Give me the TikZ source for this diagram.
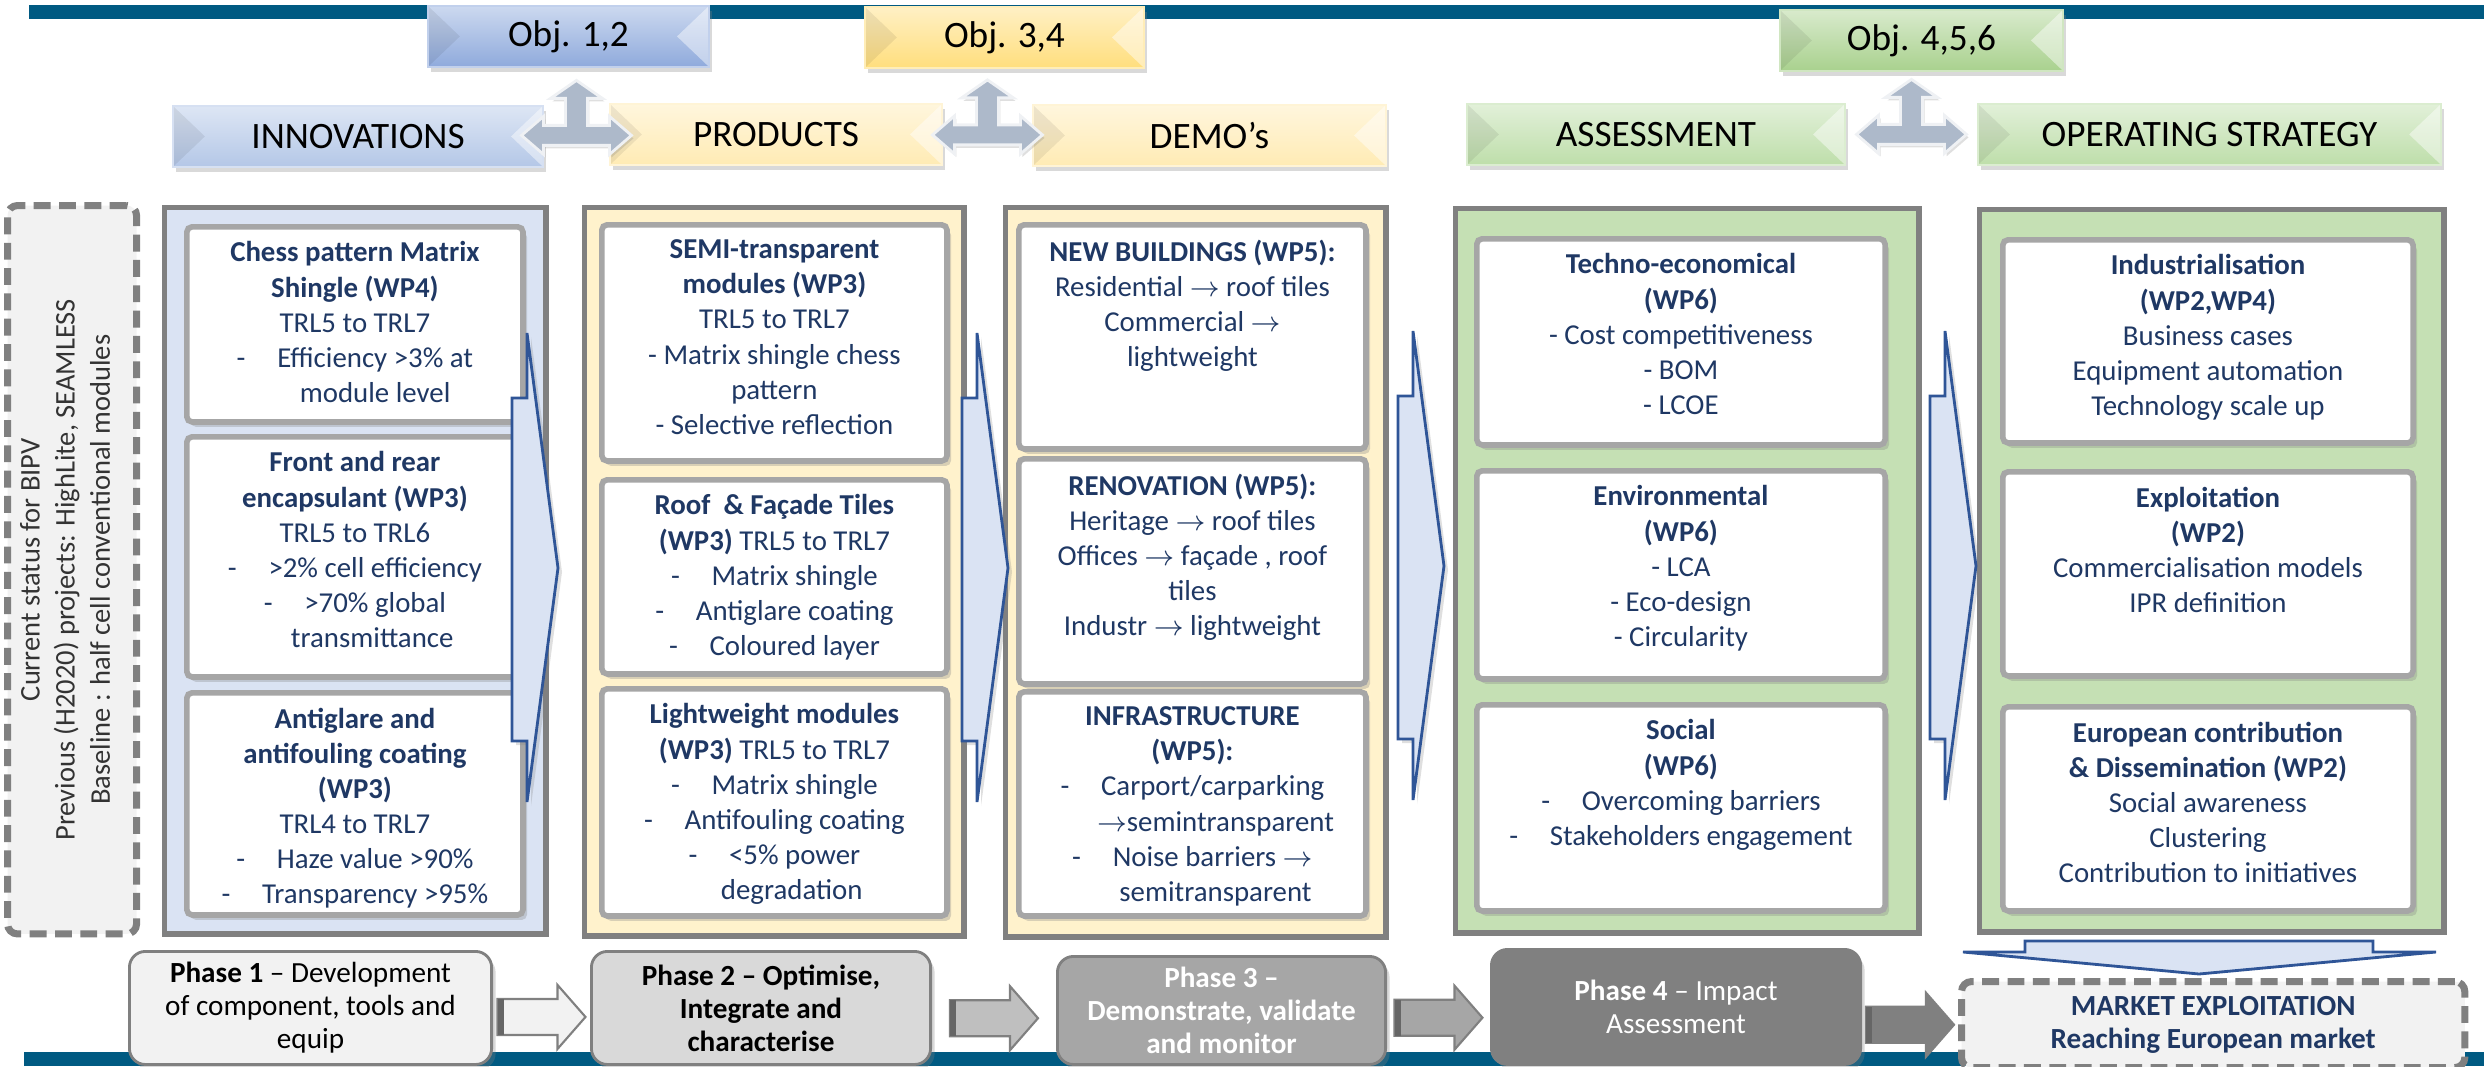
\documentclass[tikz,border=0pt]{standalone}
\usepackage{fontspec}
\setmainfont{Carlito}
\usepackage{tikz}
\usetikzlibrary{positioning}
\usetikzlibrary{shadows}
\usetikzlibrary{calc}

\definecolor{barblue}{RGB}{0,90,130}
\definecolor{navy}{RGB}{31,56,100}
\definecolor{boxframe}{RGB}{128,128,128}
\definecolor{itemframe}{RGB}{166,166,166}
\definecolor{objblue}{RGB}{143,170,220}
\definecolor{objyellow}{RGB}{255,222,125}
\definecolor{objgreen}{RGB}{169,209,142}
\definecolor{hdrblue}{RGB}{180,199,231}
\definecolor{hdryellow}{RGB}{255,235,180}
\definecolor{hdrgreen}{RGB}{190,222,170}
\definecolor{colblue}{RGB}{218,227,243}
\definecolor{colyellow}{RGB}{255,242,204}
\definecolor{colgreen}{RGB}{197,224,180}
\definecolor{linkgray}{RGB}{173,185,202}
\definecolor{arrowblue}{RGB}{47,85,151}

% list dash with a tab-like gap
\newcommand{\itm}{-\hspace{1.1em}}

\tikzset{
  bevelbox/.style={anchor=north west, inner sep=0pt, minimum height=0.61cm,
    top color=#1!45!white, bottom color=#1, draw=#1!55!white, line width=0.5pt,
    text=black, font=\fontsize{10.6}{12}\selectfont,
    drop shadow={shadow xshift=0.03cm, shadow yshift=-0.05cm, opacity=0.3},
    path picture={
      \fill[black, opacity=0.07] (path picture bounding box.north west)
        -- ([xshift=0.32cm]path picture bounding box.west)
        -- (path picture bounding box.south west) -- cycle;
      \fill[white, opacity=0.45] (path picture bounding box.north east)
        -- ([xshift=-0.32cm]path picture bounding box.east)
        -- (path picture bounding box.south east) -- cycle;
    }},
  colbox/.style={anchor=north west, inner sep=0pt, fill=#1, draw=boxframe, line width=1.5pt},
  itembox/.style={anchor=north west, inner sep=0pt, fill=white, draw=itemframe,
    line width=1.6pt, rounded corners=1.5pt,
    drop shadow={shadow xshift=0.04cm, shadow yshift=-0.05cm, opacity=0.3}},
  itemtext/.style={inner sep=0pt, align=center, text=navy, font=\fontsize{8.2}{10}\selectfont},
  phasebox/.style={anchor=north west, inner sep=0pt, align=center, fill=#1,
    draw=boxframe, line width=0.8pt, rounded corners=0.16cm,
    font=\fontsize{8.3}{9.4}\selectfont,
    drop shadow={shadow xshift=0.04cm, shadow yshift=-0.05cm, opacity=0.3}},
  dashbox/.style={anchor=north west, inner sep=0pt, fill=black!5, draw=boxframe,
    line width=2pt, dash pattern=on 4.8pt off 2.4pt, rounded corners=0.1cm},
  pics/lrup/.style={code={
    \path[fill=linkgray, draw=white!80!linkgray, line width=0.8pt,
      drop shadow={shadow xshift=0.02cm, shadow yshift=-0.03cm, opacity=0.25}]
      (-55,0) -- (-33,-19) -- (-33,-10) -- (-11,-10) -- (-11,-37) -- (-26,-37)
      -- (0,-55) -- (26,-37) -- (11,-37) -- (11,-10) -- (33,-10) -- (33,-19)
      -- (55,0) -- (33,19) -- (33,10) -- (-33,10) -- (-33,19) -- cycle;
  }},
  pics/bigarrow/.style={code={
    \path[fill=colblue, draw=arrowblue, line width=0.8pt,
      drop shadow={shadow xshift=0.04cm, shadow yshift=-0.04cm, opacity=0.25}]
      (0,0) -- (-31,-235) -- (-31,-170) -- (-46,-170) -- (-46,173)
      -- (-31,173) -- (-31,234) -- cycle;
  }},
  pics/phasearrow/.style={code={
    \path[fill=#1, draw=boxframe, line width=0.6pt]
      (-44,-9) -- (16,-9) -- (16,-23) -- (44,9) -- (16,41) -- (16,27) -- (-44,27) -- cycle;
    \fill[black!60] (-44,-9) rectangle (-38,27);
  }},
}

\begin{document}
\begin{tikzpicture}[x=0.01cm, y=-0.01cm]
\useasboundingbox (0,0) rectangle (2484,1066);

% bands
\fill[barblue] (29,5) rectangle (2484,19);
\fill[barblue] (24,1052) rectangle (2484,1066);

% objectives
\node[bevelbox=objblue, minimum width=2.81cm] (obj12) at (427,5) {Obj. 1,2};
\node[bevelbox=objyellow, minimum width=2.79cm] (obj34) at (864,6) {Obj. 3,4};
\node[bevelbox=objgreen, minimum width=2.83cm] (obj456) at (1779,9) {Obj. 4,5,6};

% headers
\node[bevelbox=hdrblue, minimum width=3.70cm] (innovH) at (172,105) {INNOVATIONS};
\node[bevelbox=hdryellow, minimum width=3.32cm] (prodH) at (609,103) {PRODUCTS};
\node[bevelbox=hdryellow, minimum width=3.53cm] (demoH) at (1032,104) {DEMO’s};
\node[bevelbox=hdrgreen, minimum width=3.78cm] (assessH) at (1466,103) {ASSESSMENT};
\node[bevelbox=hdrgreen, minimum width=4.63cm] (operH) at (1977,103) {OPERATING STRATEGY};

\pic at ($(innovH.east)!0.5!(prodH.west)$) {lrup};
\pic at ($(prodH.east)!0.5!(demoH.west)$) {lrup};
\pic at ($(assessH.east)!0.5!(operH.west)$) {lrup};

% starting point
\node[dashbox, minimum width=1.29cm, minimum height=7.28cm] (status) at (4,202) {};
\node[rotate=90, align=center, inner sep=0pt, text=black!80, font=\fontsize{8.1}{10}\selectfont]
  (statustxt) at ([xshift=-0.07cm]status.center)
  {Current status for BIPV\\Previous (H2020) projects: HighLite, SEAMLESS\\Baseline : half cell conventional modules};

% columns
\node[colbox=colblue, minimum width=3.81cm, minimum height=7.26cm] (innov) at (162,205) {};
\node[colbox=colyellow, minimum width=3.79cm, minimum height=7.28cm] (prod) at (582,205) {};
\node[colbox=colyellow, minimum width=3.80cm, minimum height=7.29cm] (demo) at (1003,205) {};
\node[colbox=colgreen, minimum width=4.63cm, minimum height=7.24cm] (assess) at (1453,206) {};
\node[colbox=colgreen, minimum width=4.64cm, minimum height=7.22cm] (oper) at (1977,207) {};

% innovations
\node[itembox, minimum width=3.36cm, minimum height=1.95cm] (chess) at (184,224) {};
\node[itemtext, below=0.17cm of chess.north] (chesstxt)
  {\textbf{Chess pattern Matrix}\\\textbf{Shingle (WP4)}\\TRL5 to TRL7\\\itm Efficiency >3\% at\\\hspace{1.4em}module level};
\node[itembox, minimum width=3.36cm, minimum height=2.40cm] (encaps) at (184,434) {};
\node[itemtext, below=0.17cm of encaps.north] (encapstxt)
  {\textbf{Front and rear}\\\textbf{encapsulant (WP3)}\\TRL5 to TRL6\\\itm >2\% cell efficiency\\\itm >70\% global\\\hspace{1.2em}transmittance};
\node[itembox, minimum width=3.36cm, minimum height=2.22cm] (coating) at (184,690) {};
\node[itemtext, below=0.17cm of coating.north] (coatingtxt)
  {\textbf{Antiglare and}\\\textbf{antifouling coating}\\\textbf{(WP3)}\\TRL4 to TRL7\\\itm Haze value >90\%\\\itm Transparency >95\%};

% products
\node[itembox, minimum width=3.45cm, minimum height=2.36cm] (semitr) at (599,222) {};
\node[itemtext, below=0.17cm of semitr.north] (semitrtxt)
  {\textbf{SEMI-transparent}\\\textbf{modules (WP3)}\\TRL5 to TRL7\\- Matrix shingle chess\\pattern\\- Selective reflection};
\node[itembox, minimum width=3.45cm, minimum height=1.94cm] (tiles) at (599,477) {};
\node[itemtext, below=0.17cm of tiles.north] (tilestxt)
  {\textbf{Roof\ \ \& Façade Tiles}\\\textbf{(WP3)} TRL5 to TRL7\\\itm Matrix shingle\\\itm Antiglare coating\\\itm Coloured layer};
\node[itembox, minimum width=3.45cm, minimum height=2.27cm] (light) at (599,686) {};
\node[itemtext, below=0.17cm of light.north] (lighttxt)
  {\textbf{Lightweight modules}\\\textbf{(WP3)} TRL5 to TRL7\\\itm Matrix shingle\\\itm Antifouling coating\\\itm <5\% power\\\hspace{1.2em}degradation};

% demos
\node[itembox, minimum width=3.47cm, minimum height=2.24cm] (newb) at (1016,222) {};
\node[itemtext, below=0.17cm of newb.north] (newbtxt)
  {\textbf{NEW BUILDINGS (WP5):}\\Residential $\rightarrow$ roof tiles\\Commercial $\rightarrow$\\lightweight};
\node[itembox, minimum width=3.47cm, minimum height=2.25cm] (renov) at (1016,456) {};
\node[itemtext, below=0.17cm of renov.north] (renovtxt)
  {\textbf{RENOVATION (WP5):}\\Heritage $\rightarrow$ roof tiles\\Offices $\rightarrow$ façade , roof\\tiles\\Industr $\rightarrow$ lightweight\hspace{1.2em}};
\node[itembox, minimum width=3.47cm, minimum height=2.24cm] (infra) at (1016,689) {};
\node[itemtext, below=0.17cm of infra.north] (infratxt)
  {\textbf{INFRASTRUCTURE}\\\textbf{(WP5):}\\\itm Carport/carparking\\\hspace{1.6em}$\rightarrow$semintransparent\\\itm Noise barriers $\rightarrow$\\\hspace{1.6em}semitransparent};

% assessment
\node[itembox, minimum width=4.08cm, minimum height=2.06cm] (techno) at (1474,236) {};
\node[itemtext, below=0.17cm of techno.north] (technotxt)
  {\textbf{Techno-economical}\\\textbf{(WP6)}\\- Cost competitiveness\\- BOM\\- LCOE};
\node[itembox, minimum width=4.08cm, minimum height=2.08cm] (envir) at (1474,468) {};
\node[itemtext, below=0.17cm of envir.north] (envirtxt)
  {\textbf{Environmental}\\\textbf{(WP6)}\\- LCA\\- Eco-design\\- Circularity};
\node[itembox, minimum width=4.08cm, minimum height=2.06cm] (social) at (1474,702) {};
\node[itemtext, below=0.17cm of social.north] (socialtxt)
  {\textbf{Social}\\\textbf{(WP6)}\\\itm Overcoming barriers\\\itm Stakeholders engagement};

% operating strategy
\node[itembox, minimum width=4.10cm, minimum height=2.03cm] (indus) at (2000,237) {};
\node[itemtext, below=0.17cm of indus.north] (industxt)
  {\textbf{Industrialisation}\\\textbf{(WP2,WP4)}\\Business cases\\Equipment automation\\Technology scale up};
\node[itembox, minimum width=4.10cm, minimum height=2.04cm] (exploit) at (2000,469) {};
\node[itemtext, below=0.17cm of exploit.north] (exploittxt)
  {\textbf{Exploitation}\\\textbf{(WP2)}\\Commercialisation models\\IPR definition};
\node[itembox, minimum width=4.10cm, minimum height=2.04cm] (europe) at (2000,704) {};
\node[itemtext, below=0.17cm of europe.north] (europetxt)
  {\textbf{European contribution}\\\textbf{\& Dissemination (WP2)}\\Social awareness\\Clustering\\Contribution to initiatives};

% flow between the columns
\pic at (558,568) {bigarrow};
\pic at (1008,568) {bigarrow};
\pic at (1444,566) {bigarrow};
\pic at (1976,566) {bigarrow};
\draw[fill=colblue, draw=arrowblue, line width=0.8pt]
  (2025,941) -- (2373,941) -- (2373,952) -- (2436,952) -- (2199,974)
  -- (1963,952) -- (2025,952) -- cycle;

% phases
\node[phasebox=black!5, minimum width=3.62cm, minimum height=1.13cm] (ph1) at (128,950)
  {\textbf{Phase 1} – Development\\of component, tools and\\equip};
\node[phasebox=black!15, minimum width=3.39cm, minimum height=1.13cm,
  font=\fontsize{8.3}{9.4}\selectfont\bfseries] (ph2) at (590,950)
  {Phase 2 – Optimise,\\Integrate and\\characterise};
\node[phasebox=black!35, minimum width=3.28cm, minimum height=1.08cm, text=white,
  font=\fontsize{8.3}{9.4}\selectfont\bfseries] (ph3) at (1056,955)
  {Phase 3 –\\Demonstrate, validate\\and monitor};
\node[phasebox=black!50, minimum width=3.69cm, minimum height=1.15cm, text=white] (ph4) at (1490,948)
  {\textbf{Phase 4} – Impact\\Assessment};
\node[dashbox, minimum width=5.03cm, minimum height=0.86cm, align=center, text=navy,
  font=\fontsize{8.3}{9.4}\selectfont\bfseries] (market) at (1958,978)
  {MARKET EXPLOITATION\\Reaching European market};

\pic at ($(ph1.east)!0.5!(ph2.west)$) {phasearrow=black!5};
\pic at ($(ph2.east)!0.5!(ph3.west)$) {phasearrow=black!25};
\pic at ($(ph3.east)!0.5!(ph4.west)$) {phasearrow=black!35};
\pic at ($(ph4.east)!0.5!(market.west)$) {phasearrow=black!50};

\end{tikzpicture}
\end{document}
